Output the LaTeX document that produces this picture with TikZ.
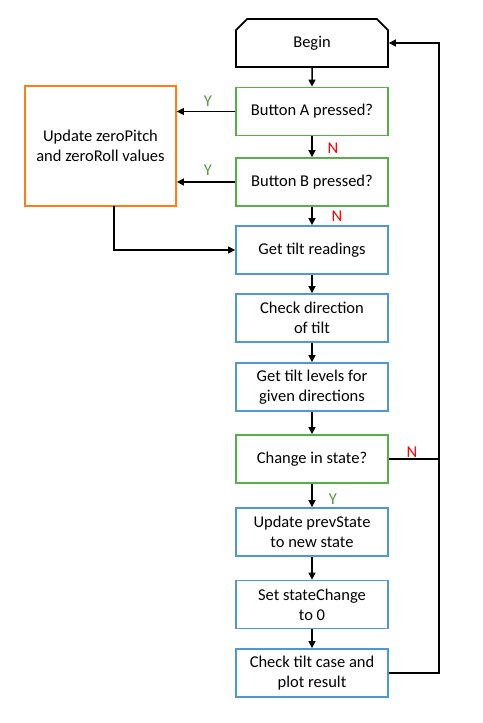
\documentclass[tikz,border=0pt]{standalone}
\usepackage{fontspec}
\setmainfont{Carlito}
\usetikzlibrary{arrows.meta,positioning,shapes.misc}
\definecolor{boxgreen}{HTML}{55B046}
\definecolor{boxblue}{HTML}{4F98D5}
\definecolor{boxorange}{HTML}{FF7F0E}
\definecolor{ygreen}{HTML}{4E9A3E}

\begin{document}
\begin{tikzpicture}[x=1pt,y=-1pt,
	font=\fontsize{16.5}{20}\selectfont,
	arr/.style={line width=1.5pt,-{Triangle[length=7pt,width=7pt]}},
	line/.style={line width=1.5pt},
	stepbox/.style={rectangle,draw,line width=1.8pt,align=center,minimum width=152pt,minimum height=48pt,inner sep=2pt},
	ask/.style={stepbox,draw=boxgreen},
	act/.style={stepbox,draw=boxblue},
	yes/.style={text=ygreen},
	no/.style={text=red}]
	\useasboundingbox (0,0) rectangle (482,723);
	\begin{scope}
		\node[chamfered rectangle,chamfered rectangle corners={north west,north east},chamfered rectangle xsep=8pt,draw,line width=1.8pt,minimum width=152pt,minimum height=48pt] (begin) at (312,43) {Begin};
		\node[ask] (btnA) at (312,111.5) {Button A pressed?};
		\node[ask] (btnB) at (312,182) {Button B pressed?};
		\node[act] (readings) at (312,250) {Get tilt readings};
		\node[act] (dir) at (312,318) {Check direction\\of tilt};
		\node[act] (levels) at (312,387) {Get tilt levels for\\given directions};
		\node[ask] (change) at (312,459) {Change in state?};
		\node[act] (prev) at (312,532) {Update prevState\\to new state};
		\node[act] (reset) at (312,604.5) {Set stateChange\\to 0};
		\node[act] (plot) at (312,673) {Check tilt case and\\plot result};
		\node[stepbox,draw=boxorange,minimum width=151pt,minimum height=120pt] (zero) at (100.5,146) {Update zeroPitch\\and zeroRoll values};
	\end{scope}
	\coordinate (zeroout) at (114,206);
	\coordinate (rail) at (439,0);
	\begin{scope}
		\draw[arr] (begin) -- (btnA);
		\draw[arr] (btnA) -- (btnB);
		\draw[arr] (btnB) -- (readings);
		\draw[arr] (readings) -- (dir);
		\draw[arr] (dir) -- (levels);
		\draw[arr] (levels) -- (change);
		\draw[arr] (change) -- (prev);
		\draw[arr] (prev) -- (reset);
		\draw[arr] (reset) -- (plot);
		\draw[arr] (btnA.west) -- (btnA.west -| zero.east);
		\draw[arr] (btnB.west) -- (btnB.west -| zero.east);
		\draw[arr] (zeroout) |- (readings.west);
		\draw[arr] (plot.east) -- (plot.east -| rail) |- (begin.east);
		\draw[line] (change.east) -- (change.east -| rail);
	\end{scope}
	\node[yes] (yA) at (208,101) {Y};
	\node[yes] (yB) at (208,170) {Y};
	\node[no] (nA) at (333,148) {N};
	\node[no] (nB) at (337,216) {N};
	\node[no] (nC) at (412,452) {N};
	\node[yes] (yC) at (333,499) {Y};
\end{tikzpicture}
\end{document}
